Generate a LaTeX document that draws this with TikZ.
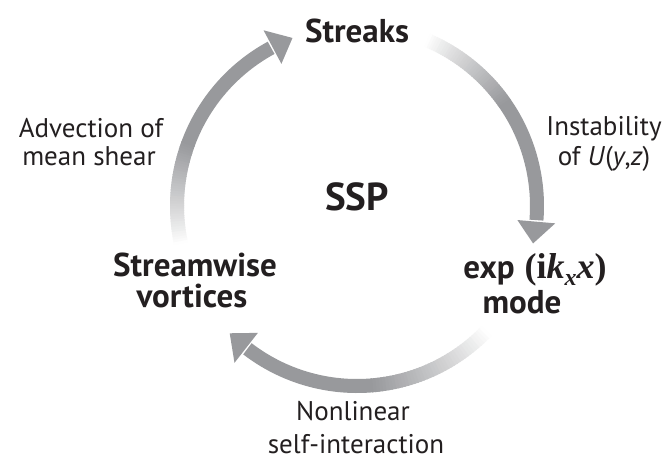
\documentclass[tikz,border=0pt]{standalone}
\usepackage{fontspec}
\setmainfont{PT Sans}
\newfontfamily\mathserif{Liberation Serif}
\definecolor{arrowgray}{RGB}{152,153,156}
\definecolor{txt}{RGB}{35,31,32}
\newcommand{\gradarc}[4]{%
  \foreach \i in {0,...,39}{%
    \pgfmathsetmacro{\aa}{#1+(#2-#1)*\i/40}%
    \pgfmathsetmacro{\ab}{#1+(#2-#1)*(\i+1.4)/40}%
    \pgfmathtruncatemacro{\pc}{100*((\i+0.5)/40)^0.9}%
    \draw[arcline, draw=arrowgray!\pc!white] (C) ++(\aa:180) arc[start angle=\aa, end angle=\ab, radius=180];
  }%
  \draw[arcline, draw=arrowgray] (C) ++(#2:180) arc[start angle=#2, end angle=#3+0.5, radius=180];
  \fill[arrowgray, shift={(C)}] (#3:161) -- (#3:199) -- (#4:180) -- cycle;
}
\tikzset{
  arcline/.style={line width=14pt},
  boldlbl/.style={font=\fontsize{33}{36}\selectfont\bfseries, text=txt, inner sep=0pt, anchor=base},
  reglbl/.style={font=\fontsize{27}{30}\selectfont, text=txt, inner sep=0pt, anchor=base}
}
\begin{document}
\begin{tikzpicture}[x=1pt,y=1pt]
\useasboundingbox[fill=white] (0,0) rectangle (665,-459);
\coordinate (C) at (357,-206);
% arcs: start, fade end, head base, tip
\gradarc{67}{35}{-5}{-12}
\gradarc{-44}{-85}{-128}{-135}
\gradarc{192}{160}{118}{111}
% labels
\node[boldlbl] (streaks) at (357,-42) {Streaks};
\node[boldlbl, font=\fontsize{39}{40}\selectfont\bfseries] (ssp) at (357,-210) {SSP};
\node[boldlbl] (strw1) at (195,-276) {Streamwise};
\node[boldlbl] (strw2) at (192,-307) {vortices};
\node[boldlbl] (exp) at (535,-278) {exp\hspace{0.3em}{\mathserif\fontsize{36}{38}\selectfont(i\textit{k}\raisebox{-0.22em}{\fontsize{24}{25}\selectfont\textit{x}}\textit{x})}};
\node[boldlbl] (mode) at (522,-313) {mode};
\node[reglbl] (ins1) at (604,-135) {Instability};
\node[reglbl] (ins2) at (604,-165) {of \textit{U}(\textit{y},\textit{z})};
\node[reglbl] (adv1) at (91,-137) {Advection of};
\node[reglbl] (adv2) at (89,-165) {mean shear};
\node[reglbl] (nl1) at (353,-420) {Nonlinear};
\node[reglbl] (nl2) at (356,-453) {self-interaction};
\end{tikzpicture}
\end{document}
